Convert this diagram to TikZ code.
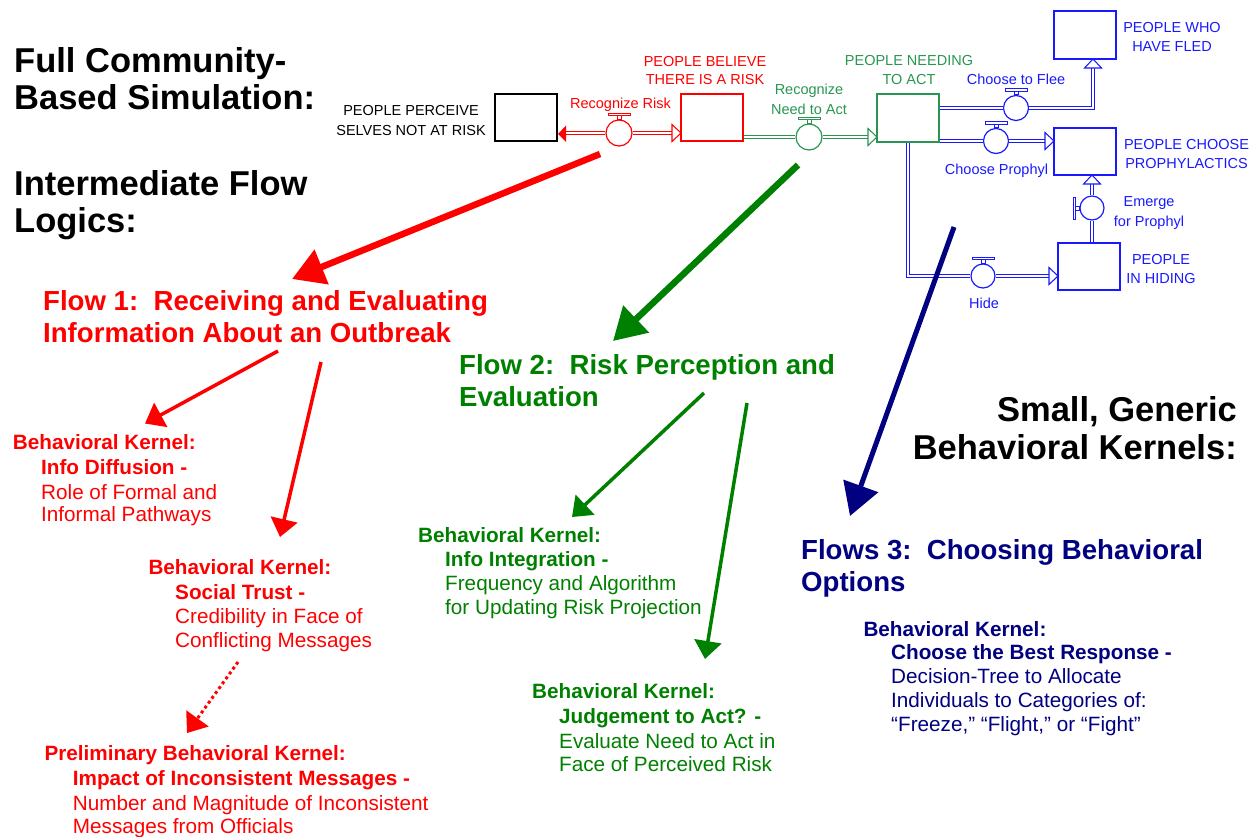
\documentclass[tikz,border=0pt]{standalone}
\usepackage{fontspec}
\setmainfont{Liberation Sans}
\usetikzlibrary{arrows.meta}
\definecolor{sfgreen}{RGB}{40,150,80}
\definecolor{sfblue}{RGB}{25,25,255}
\definecolor{kred}{RGB}{255,0,0}
\definecolor{kgreen}{RGB}{0,128,0}
\definecolor{knavy}{RGB}{0,0,128}
\tikzset{
  title/.style={inner sep=0pt, font=\fontsize{34.5}{40}\selectfont\bfseries},
  flowhead/.style={anchor=base west, inner sep=0pt, font=\fontsize{27.6}{32}\selectfont\bfseries},
  kbold/.style={anchor=base west, inner sep=0pt, font=\fontsize{20.7}{24}\selectfont\bfseries},
  kreg/.style={anchor=base west, inner sep=0pt, font=\fontsize{20.7}{24}\selectfont},
  sflabel/.style={anchor=base, inner sep=0pt, font=\fontsize{14.5}{19}\selectfont},
  stock/.style={draw, line width=1.2pt, minimum width=62pt, minimum height=47pt, inner sep=0pt},
  valve/.style={circle, fill=white, line width=1.2pt, minimum size=26pt, inner sep=0pt},
  pipe/.style={double=white, double distance=2.2pt, line width=1.05pt},
  bigarrow/.style={line width=6.5pt, -{Triangle[length=32pt,width=36pt]}},
  midarrow/.style={line width=3.5pt, -{Triangle[length=18pt,width=27pt]}},
  valvebar/.pic={\draw[line width=1pt] (-2,0) rectangle (2,-3.5);
                 \draw[line width=1pt] (-11,-3.5) rectangle (11,-6);},
  pipehead/.pic={\draw[line width=1.05pt, fill=white] (0,0) -- (-9,-8.5) -- (-9,8.5) -- cycle;},
}
\begin{document}
\begin{tikzpicture}[x=1pt,y=-1pt]
\useasboundingbox (0,0) rectangle (1258,836);

% ---------- section titles ----------
\node[title, anchor=base west] (t1a) at (14,72.3) {Full Community-};
\node[title, anchor=base west] (t1b) at (14,109) {Based Simulation:};
\node[title, anchor=base west] (t2a) at (14,195.7) {Intermediate Flow};
\node[title, anchor=base west] (t2b) at (14,232.5) {Logics:};
\node[title, anchor=base east] (t3a) at (1237,421) {Small, Generic};
\node[title, anchor=base east] (t3b) at (1237,459) {Behavioral Kernels:};

% ---------- stock and flow model ----------
\node[stock, black] (sBlack) at (526,117.5) {};
\node[stock, kred] (sRed) at (712,117.5) {};
\node[stock, sfgreen, minimum height=48pt] (sGreen) at (908,118) {};
\node[stock, sfblue, minimum height=48pt] (sFled) at (1085,35) {};
\node[stock, sfblue] (sProph) at (1085,151.5) {};
\node[stock, sfblue] (sHide) at (1089,266.5) {};

% pipe end points
\coordinate (bTip) at (558,134);
\coordinate (rStart) at (566,133);
\coordinate (rTip) at (681,133);
\coordinate (rBack) at (672,133);
\coordinate (gTip) at (877,137);
\coordinate (gBack) at (868,137);
\coordinate (fTip) at (1093,59);
\coordinate (fBack) at (1093,68);
\coordinate (pTip) at (1054,141);
\coordinate (pBack) at (1045,141);
\coordinate (hTip) at (1058,276);
\coordinate (hBack) at (1049,276);
\coordinate (eTip) at (1092,175);
\coordinate (eBack) at (1092,183);

% valves
\node[valve, draw=kred] (vR) at (619,133) {};
\node[valve, draw=sfgreen] (vG) at (809,137) {};
\node[valve, draw=sfblue, minimum size=25pt] (vF) at (1016,108) {};
\node[valve, draw=sfblue, minimum size=25pt] (vP) at (996,141) {};
\node[valve, draw=sfblue, minimum size=24pt] (vH) at (983,276) {};
\node[valve, draw=sfblue, minimum size=24pt] (vE) at (1092,208) {};

% valve handles
\pic[kred] at (vR.north) {valvebar};
\pic[sfgreen] at (vG.north) {valvebar};
\pic[sfblue] at (vF.north) {valvebar};
\pic[sfblue] at (vP.north) {valvebar};
\pic[sfblue] at (vH.north) {valvebar};
\pic[sfblue, rotate=90] at (vE.west) {valvebar};

% pipes
\draw[pipe, kred] (rStart) -- (vR.west);
\draw[pipe, kred] (vR.east) -- (rBack);
\fill[kred] (bTip) -- (566,125.5) -- (566,142) -- cycle;
\pic[kred] at (rTip) {pipehead};

\draw[pipe, sfgreen] (sRed.east |- vG.center) -- (vG.west);
\draw[pipe, sfgreen] (vG.east) -- (gBack);
\pic[sfgreen] at (gTip) {pipehead};

\draw[pipe, sfblue] (sGreen.east |- vF.center) -- (vF.west);
\draw[pipe, sfblue] (vF.east) -| (fBack);
\pic[sfblue, rotate=90] at (fTip) {pipehead};

\draw[pipe, sfblue] (sGreen.east |- vP.center) -- (vP.west);
\draw[pipe, sfblue] (vP.east) -- (pBack);
\pic[sfblue] at (pTip) {pipehead};

\draw[pipe, sfblue] (sGreen.south) |- (vH.west);
\draw[pipe, sfblue] (vH.east) -- (hBack);
\pic[sfblue] at (hTip) {pipehead};

\draw[pipe, sfblue] (vE |- sHide.north) -- (vE.south);
\draw[pipe, sfblue] (vE.north) -- (eBack);
\pic[sfblue, rotate=90] at (eTip) {pipehead};

% stock and flow labels
\node[sflabel, black] (lBlackA) at (411,115.2) {PEOPLE PERCEIVE};
\node[sflabel, black] (lBlackB) at (411,135) {SELVES NOT AT RISK};
\node[sflabel, kred] (lRedA) at (705,66) {PEOPLE BELIEVE};
\node[sflabel, kred] (lRedB) at (705,84.3) {THERE IS A RISK};
\node[sflabel, kred] (lvR) at (620.5,108.3) {Recognize Risk};
\node[sflabel, sfgreen] (lvGA) at (809,94.3) {Recognize};
\node[sflabel, sfgreen] (lvGB) at (809,114.3) {Need to Act};
\node[sflabel, sfgreen] (lGreenA) at (909,65.7) {PEOPLE NEEDING};
\node[sflabel, sfgreen] (lGreenB) at (909,84.3) {TO ACT};
\node[sflabel, sfblue] (lvF) at (1016,84) {Choose to Flee};
\node[sflabel, sfblue] (lvP) at (996.5,174) {Choose Prophyl};
\node[sflabel, sfblue] (lFledA) at (1172,32.3) {PEOPLE WHO};
\node[sflabel, sfblue] (lFledB) at (1172,51.7) {HAVE FLED};
\node[sflabel, sfblue] (lProphA) at (1186.5,149.3) {PEOPLE CHOOSE};
\node[sflabel, sfblue] (lProphB) at (1186.5,168.3) {PROPHYLACTICS};
\node[sflabel, sfblue] (lvEA) at (1149,206) {Emerge};
\node[sflabel, sfblue] (lvEB) at (1149,226) {for Prophyl};
\node[sflabel, sfblue] (lHideA) at (1161,264) {PEOPLE};
\node[sflabel, sfblue] (lHideB) at (1161,283.3) {IN HIDING};
\node[sflabel, sfblue] (lvH) at (984,308.7) {Hide};

% ---------- intermediate flow logics ----------
\node[flowhead, kred] (f1a) at (43,310) {Flow 1:\ \ Receiving and Evaluating};
\node[flowhead, kred] (f1b) at (43,342) {Information About an Outbreak};
\node[flowhead, kgreen] (f2a) at (459,374) {Flow 2:\ \ Risk Perception and};
\node[flowhead, kgreen] (f2b) at (459,406) {Evaluation};
\node[flowhead, knavy] (f3a) at (801,559) {Flows 3:\ \ Choosing Behavioral};
\node[flowhead, knavy] (f3b) at (801,591) {Options};

% ---------- behavioral kernels ----------
\node[kbold, kred] (kA1) at (12.7,449.3) {Behavioral Kernel:};
\node[kbold, kred] (kA2) at (41,474) {Info Diffusion -};
\node[kreg, kred] (kA3) at (41,499) {Role of Formal and};
\node[kreg, kred] (kA4) at (41,521.7) {Informal Pathways};

\node[kbold, kred] (kB1) at (148.3,574) {Behavioral Kernel:};
\node[kbold, kred] (kB2) at (175,599) {Social Trust -};
\node[kreg, kred] (kB3) at (175,623.3) {Credibility in Face of};
\node[kreg, kred] (kB4) at (175,647.7) {Conflicting Messages};

\node[kbold, kred] (kC1) at (44.3,760.7) {Preliminary Behavioral Kernel:};
\node[kbold, kred] (kC2) at (72.7,785.7) {Impact of Inconsistent Messages -};
\node[kreg, kred] (kC3) at (72.7,810) {Number and Magnitude of Inconsistent};
\node[kreg, kred] (kC4) at (72.7,833.3) {Messages from Officials};

\node[kbold, kgreen] (kD1) at (418,542) {Behavioral Kernel:};
\node[kbold, kgreen] (kD2) at (445,566) {Info Integration -};
\node[kreg, kgreen] (kD3) at (445,590) {Frequency and Algorithm};
\node[kreg, kgreen] (kD4) at (445,614) {for Updating Risk Projection};

\node[kbold, kgreen] (kE1) at (532,698) {Behavioral Kernel:};
\node[kbold, kgreen] (kE2) at (559,723) {Judgement to Act? -};
\node[kreg, kgreen] (kE3) at (559,748) {Evaluate Need to Act in};
\node[kreg, kgreen] (kE4) at (559,771) {Face of Perceived Risk};

\node[kbold, knavy] (kF1) at (863.3,636) {Behavioral Kernel:};
\node[kbold, knavy] (kF2) at (891,659.3) {Choose the Best Response -};
\node[kreg, knavy] (kF3) at (891,683.3) {Decision-Tree to Allocate};
\node[kreg, knavy] (kF4) at (891,707.3) {Individuals to Categories of:};
\node[kreg, knavy] (kF5) at (891,731) {“Freeze,” “Flight,” or “Fight”};

% ---------- connecting arrows ----------
\coordinate (aRs) at (600,154);   \coordinate (aRe) at (292,279);
\coordinate (aGs) at (798,165);   \coordinate (aGe) at (613,341);
\coordinate (aNs) at (954,227);   \coordinate (aNe) at (850,516);
\coordinate (m1s) at (278,351);   \coordinate (m1e) at (145,423.5);
\coordinate (m2s) at (321,362);   \coordinate (m2e) at (280,537);
\coordinate (m3s) at (704,393);   \coordinate (m3e) at (572,517);
\coordinate (m4s) at (747,403);   \coordinate (m4e) at (705,659);
\coordinate (m5s) at (238,662);   \coordinate (m5e) at (187,733);

\draw[bigarrow, kred] (aRs) -- (aRe);
\draw[bigarrow, kgreen] (aGs) -- (aGe);
\draw[bigarrow, knavy, line width=5pt] (aNs) -- (aNe);

\draw[midarrow, kred] (m1s) -- (m1e);
\draw[midarrow, kred] (m2s) -- (m2e);
\draw[midarrow, kgreen] (m3s) -- (m3e);
\draw[midarrow, kgreen] (m4s) -- (m4e);
\draw[midarrow, kred, line width=3pt, dash pattern=on 3pt off 3pt] (m5s) -- (m5e);
\end{tikzpicture}
\end{document}
